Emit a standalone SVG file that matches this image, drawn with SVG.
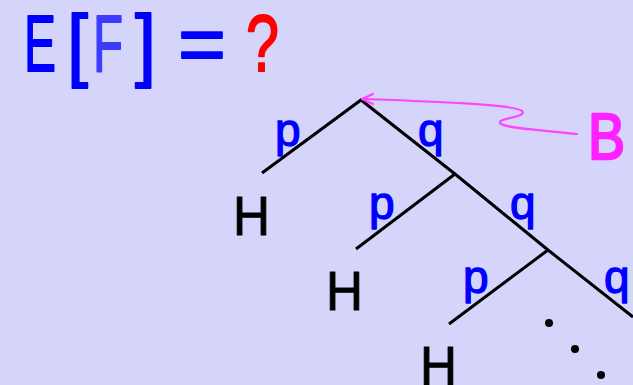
<svg xmlns="http://www.w3.org/2000/svg" width="633" height="385" viewBox="0 0 633 385">
<defs>
<style>
text{font-family:"Liberation Sans",Arial,sans-serif;stroke-linejoin:round}
.t{font-size:80px;fill:#0000ff;stroke:#0000ff;stroke-width:1.8}
.lab{font-size:46px;fill:#0000ff;stroke:#0000ff;stroke-width:1.3}
.h{font-size:56px;fill:#000;stroke:#000;stroke-width:1}
.edge{stroke:#000;stroke-width:3;fill:none}
.pink{stroke:#ff44ff;stroke-width:2.2;fill:none;stroke-linecap:round;stroke-linejoin:round}
.dot{fill:#000}
</style>
</defs>
<rect width="633" height="385" fill="#d5d5fc"/>
<g id="title">
<text class="t" x="24" y="71" textLength="32" lengthAdjust="spacingAndGlyphs">E</text>
<text class="t" x="67" y="71" textLength="21" lengthAdjust="spacingAndGlyphs">[</text>
<text class="t" x="93" y="71" textLength="30" lengthAdjust="spacingAndGlyphs" style="fill:#3c3cff;stroke:#3c3cff">F</text>
<text class="t" x="135" y="71" textLength="21" lengthAdjust="spacingAndGlyphs">]</text>
<text class="t" x="178" y="71" textLength="48" lengthAdjust="spacingAndGlyphs">=</text>
<text class="t" x="246" y="71" textLength="33" lengthAdjust="spacingAndGlyphs" style="fill:#ff0000;stroke:#ff0000">?</text>
</g>
<g id="B"><text x="588" y="159" font-size="64" fill="#ff22ff" stroke="#ff22ff" stroke-width="2.5" textLength="37" lengthAdjust="spacingAndGlyphs">B</text></g>
<g id="connectors">
<path class="edge" d="M262,173 L361,100 L455,174 L548,250 L633,317"/>
<path class="edge" d="M356,249 L455,174"/>
<path class="edge" d="M449,324 L548,250"/>
<path class="pink" d="M577,134 C540,130 502,128 500,123 C498,118 528,117 522,111 C515,104 420,101 363,99"/>
<path class="pink" d="M373,94 L362,99 L373,104"/>
</g>
<g id="labels">
<text class="lab" x="275" y="146">p</text>
<text class="lab" x="418" y="146">q</text>
<text class="lab" x="369" y="219">p</text>
<text class="lab" x="510" y="219">q</text>
<text class="lab" x="463" y="293">p</text>
<text class="lab" x="604" y="293">q</text>
</g>
<g id="leaves">
<text class="h" x="233" y="235" textLength="37" lengthAdjust="spacingAndGlyphs">H</text>
<text class="h" x="326" y="310" textLength="37" lengthAdjust="spacingAndGlyphs">H</text>
<text class="h" x="420" y="385" textLength="37" lengthAdjust="spacingAndGlyphs">H</text>
</g>
<g id="dots">
<circle class="dot" cx="549" cy="323" r="4"/>
<circle class="dot" cx="575" cy="349" r="4"/>
<circle class="dot" cx="601" cy="375" r="4"/>
</g>
</svg>
